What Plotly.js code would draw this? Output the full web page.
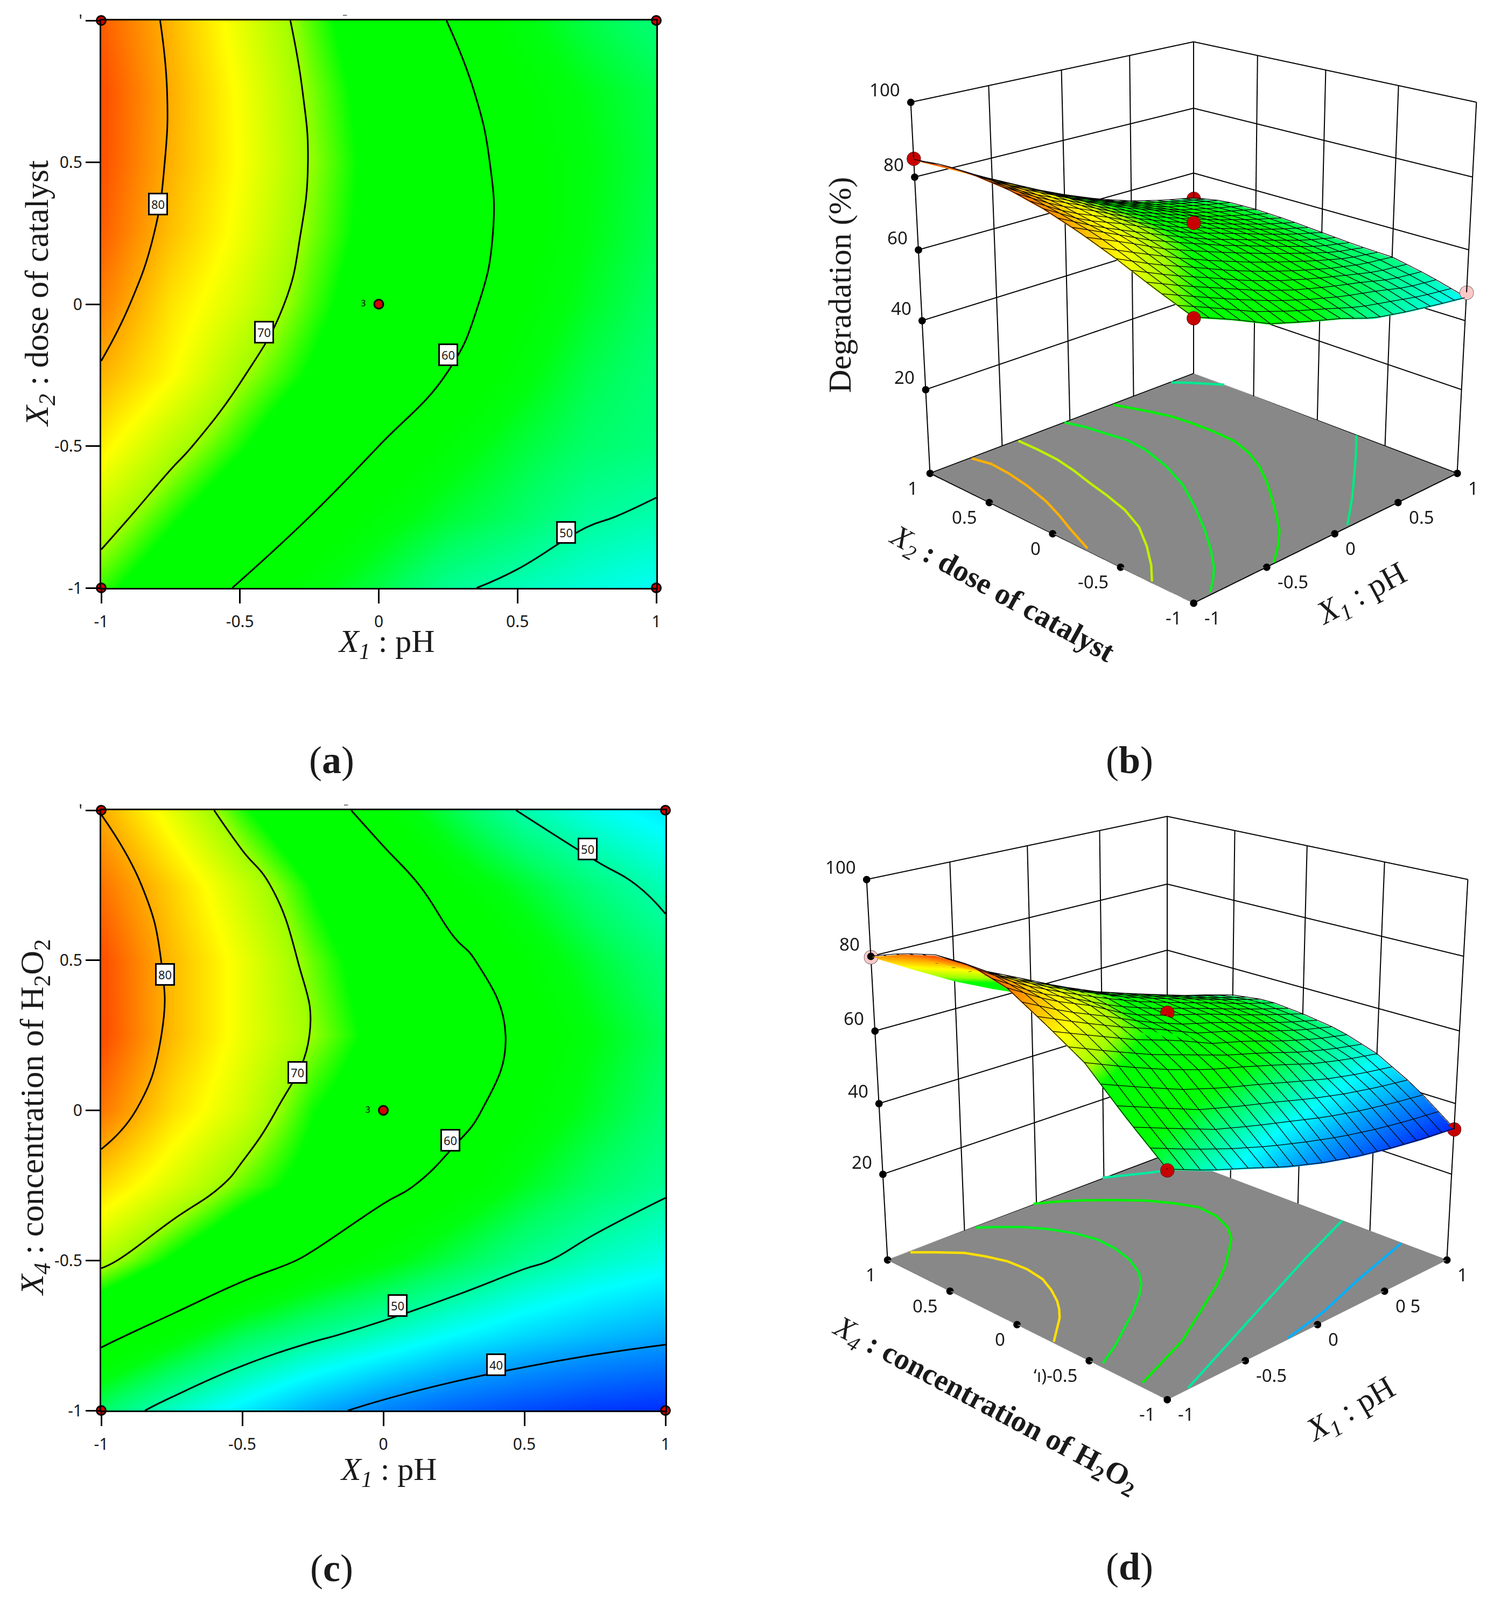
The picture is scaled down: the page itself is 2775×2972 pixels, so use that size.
<!DOCTYPE html>
<html><head><meta charset="utf-8">
<script src="https://cdn.plot.ly/plotly-3.0.1.min.js"></script>
<style>html,body{margin:0;padding:0;background:#fff;overflow:hidden;width:2775px;height:2972px}#wrap{position:absolute;left:0;top:-952px}</style>
</head><body><div id="wrap"></div>
<script>
const W=2775, OFF=952, H=4509;
const fx=p=>p/W, fy=p=>1-(p+OFF)/H;
const coded=[-1,-0.75,-0.5,-0.25,0,0.25,0.5,0.75,1];
// degradation (%) (a)/(b): rows X2=-1 ... 1, cols X1=-1 ... 1
const zDose=[
[68,64,59.5,56.6,54,50.7,49,47.6,46.4],
[71.7,67.6,63.8,60,57,54.7,52.8,50.4,49.4],
[75.8,71.2,67.4,63.4,60,57.1,54.6,52.6,51.6],
[79.4,75.2,70.3,66.7,63.2,59.9,56.8,53.8,52],
[82.4,76.6,72.8,68.4,64.4,61.4,58.2,55.2,52.8],
[84.5,78.6,74.2,69.4,65.5,62,58.9,56,53.6],
[85.4,79.5,74.8,69.9,65.7,62.1,58.6,56.2,54],
[85.6,79.7,74.6,69.5,65.2,61.2,58,55.7,53.8],
[84.5,79.2,73.7,68.6,64,59.9,56.6,54,52]];
// degradation (%) (c)/(d): rows X4=-1 ... 1
const zH2O2=[
[52.6,48.4,45,41.4,38.6,36.4,34.8,33.6,32.8],
[61.4,57.4,53.4,50.8,48.4,45.8,43.8,42.2,41],
[71,66.6,62.6,59.2,56.6,53.8,50.8,48.6,47],
[77.2,73,68.8,65.5,61.1,58.6,55.4,52.6,50.6],
[83,76.9,72.6,67.2,64,61.3,58,55,52.2],
[85.8,79,74,69.8,65.6,62.2,59.2,56,53.2],
[85.6,79,74,68.9,64.5,61,57.7,54.5,51.8],
[83.2,77.6,72.1,66.8,62.3,57.8,54.8,51.6,48.9],
[79.8,73.6,67.6,62.5,57.9,53.7,49.5,46.8,44.8]];
const colorLevels=[32,40,46,50,53,56,58,67,70,75,80,85,92];
const colorHex=['#0020ff','#0096ff','#00ffff','#00ffa0','#00ff60','#00ff10','#00ff00','#00ff00','#9fff00','#ffff00','#ffa800','#ff5500','#ff0000'];
const cmin=colorLevels[0], cmax=colorLevels[colorLevels.length-1];
const cscale=colorLevels.map((v,i)=>[(v-cmin)/(cmax-cmin),colorHex[i]]);
const tickVals=[-1,-0.5,0,0.5,1], tickText=['-1','-0.5','0','0.5','1'], yTickTextFlat=['-1','-0.5','0','0.5',"'"];
const zTicks=[20,40,60,80,100];
const meshLines=[-1,-0.9,-0.8,-0.7,-0.6,-0.5,-0.4,-0.3,-0.2,-0.1,0,0.1,0.2,0.3,0.4,0.5,0.6,0.7,0.8,0.9,1];
const floorZ=-5, topZ=100;
const cornerX=[-1,1,-1,1], cornerY=[-1,-1,1,1];
// contour labels
const labelsA={x:[-0.796,-0.414,0.25,0.675],y:[0.353,-0.098,-0.179,-0.805],t:['80','70','60','50']};
const labelsC={x:[-0.773,-0.305,0.237,0.724,0.05,0.4],y:[0.453,0.127,-0.1,0.87,-0.65,-0.848],t:['80','70','60','50','50','40']};
const floorB=[
 {c:'#ffb000',x:[-0.73,-0.7,-0.71,-0.74,-0.79,-0.85,-0.91,-0.99],y:[0.98,0.85,0.69,0.5,0.293,0.12,-0.03,-0.25]},
 {c:'#c0f000',x:[-0.4,-0.4,-0.41,-0.44,-0.483,-0.52,-0.57,-0.65,-0.767,-0.89,-1],y:[0.98,0.82,0.64,0.47,0.293,0.12,-0.07,-0.26,-0.44,-0.6,-0.72]},
 {c:'#00f020',x:[-0.05,-0.01,0.01,0.035,0.02,-0.05,-0.15,-0.29,-0.44,-0.57,-0.69,-0.79,-0.88],y:[0.99,0.86,0.72,0.56,0.4,0.16,-0.07,-0.3,-0.52,-0.69,-0.83,-0.92,-0.99]},
 {c:'#00f000',x:[0.32,0.36,0.4,0.44,0.456,0.46,0.447,0.39,0.31,0.19,0.05,-0.07,-0.18,-0.31,-0.45],y:[0.98,0.87,0.76,0.62,0.47,0.3,0.12,-0.04,-0.19,-0.36,-0.53,-0.67,-0.79,-0.9,-1]},
 {c:'#00e880',x:[0.99,0.8,0.61,0.37,0.11],y:[-0.3,-0.46,-0.61,-0.8,-0.99]},
 {c:'#00e890',x:[0.795,0.876,0.994],y:[0.985,0.894,0.736]}];
const floorD=[
 {c:'#ffe000',x:[-0.87,-0.78,-0.68,-0.63,-0.59,-0.58,-0.6,-0.65,-0.71,-0.76,-0.82,-0.91,-1],y:[0.98,0.89,0.78,0.67,0.55,0.41,0.27,0.15,0.04,-0.03,-0.1,-0.18,-0.26]},
 {c:'#00f020',x:[-0.44,-0.35,-0.26,-0.18,-0.12,-0.09,-0.1,-0.14,-0.21,-0.29,-0.38,-0.53,-0.68,-0.83,-0.98],y:[0.98,0.9,0.81,0.69,0.556,0.42,0.28,0.13,-0.01,-0.11,-0.19,-0.3,-0.395,-0.49,-0.57]},
 {c:'#00f000',x:[-0.02,0.09,0.2,0.32,0.44,0.52,0.576,0.56,0.495,0.41,0.31,0.14,-0.05,-0.31,-0.57,-0.78,-0.98],y:[1,0.93,0.845,0.73,0.6,0.47,0.34,0.19,0.045,-0.06,-0.14,-0.27,-0.39,-0.53,-0.67,-0.75,-0.825]},
 {c:'#00e8a0',x:[0.99,0.5,-0.12,-0.87],y:[-0.32,-0.49,-0.72,-1]},
 {c:'#00b0ff',x:[0.985,0.48,0.12,-0.21],y:[-0.72,-0.84,-0.94,-1]},
 {c:'#00e8a0',x:[0.49,0.72,1],y:[1,0.87,0.73]}];
const markB={x:[-1,1,0,-1,1],y:[1,1,0,-1,-1],z:[85,52,67.5,68,48],c:['#c80000','#c80000','#c80000','#c80000','#ffc8c8']};
const markD={x:[-1,0,-1,1],y:[1,0,-1,-1],z:[79.8,65,52.6,32.8],c:['#ffc8c8','#c80000','#c80000','#c80000']};

const serif='"Liberation Serif"', sans='"Noto Sans"', ink='#1a1a1a';
const traces=[];
function flat(z,ax,ay){
 traces.push({type:'heatmap',x:coded,y:coded,z:z,zsmooth:'best',colorscale:cscale,zmin:cmin,zmax:cmax,showscale:false,xaxis:ax,yaxis:ay,hoverinfo:'skip'});
 traces.push({type:'contour',x:coded,y:coded,z:z,xaxis:ax,yaxis:ay,showscale:false,contours:{coloring:'none',start:40,end:80,size:10,showlabels:false},line:{color:'#000',width:3,smoothing:1.3},hoverinfo:'skip'});
 traces.push({type:'scatter',mode:'markers',x:cornerX,y:cornerY,xaxis:ax,yaxis:ay,cliponaxis:false,marker:{size:17,color:'#d00000',line:{color:'#000',width:3}},hoverinfo:'skip'});
 traces.push({type:'scatter',mode:'markers+text',x:[0],y:[0],text:['3   '],textposition:'middle left',textfont:{family:sans,size:16,color:'#000'},xaxis:ax,yaxis:ay,marker:{size:17,color:'#d00000',line:{color:'#000',width:3}},hoverinfo:'skip'});
}
flat(zDose,'x','y');
flat(zH2O2,'x2','y2');
function frameLines(){
 const X=[],Y=[],Z=[];
 const seg=(a,b)=>{X.push(a[0],b[0],null);Y.push(a[1],b[1],null);Z.push(a[2],b[2],null);};
 tickVals.forEach(v=>{seg([v,1,floorZ],[v,1,topZ]);seg([1,v,floorZ],[1,v,topZ]);});
 zTicks.forEach(v=>{seg([1,1,v],[-1,1,v]);seg([1,1,v],[1,-1,v]);});
 seg([-1,-1,floorZ],[1,-1,floorZ]);seg([-1,-1,floorZ],[-1,1,floorZ]);seg([1,-1,floorZ],[1,1,floorZ]);seg([-1,1,floorZ],[1,1,floorZ]);
 return {X,Y,Z};
}
function tickDots(){
 const X=[],Y=[],Z=[];
 tickVals.forEach(v=>{X.push(v);Y.push(-1);Z.push(floorZ);X.push(-1);Y.push(v);Z.push(floorZ);});
 zTicks.forEach(v=>{X.push(-1);Y.push(1);Z.push(v);});
 return {X,Y,Z};
}
// wire mesh drawn over the surface: follows the surface values held in z
function onSurface(z,a,b){
 const idx=v=>Math.min(7,Math.floor((v+1)/0.25));
 const i=idx(a), j=idx(b), s=(a-coded[i])/0.25, t=(b-coded[j])/0.25;
 return z[j][i]*(1-s)*(1-t)+z[j][i+1]*s*(1-t)+z[j+1][i]*(1-s)*t+z[j+1][i+1]*s*t;
}
function wire(z){
 const X=[],Y=[],Z=[];
 meshLines.forEach(p=>{
  meshLines.forEach(q=>{X.push(p);Y.push(q);Z.push(onSurface(z,p,q)+0.25);});X.push(null);Y.push(null);Z.push(null);
  meshLines.forEach(q=>{X.push(q);Y.push(p);Z.push(onSurface(z,q,p)+0.25);});X.push(null);Y.push(null);Z.push(null);
 });
 return {X,Y,Z};
}
function solid(z,scene,floor,mark){
 traces.push({type:'surface',scene:scene,x:coded,y:coded,z:z,colorscale:cscale,cmin:cmin,cmax:cmax,showscale:false,hoverinfo:'skip',
  lighting:{ambient:1,diffuse:0,specular:0,roughness:1,fresnel:0},
  contours:{x:{show:false},y:{show:false},z:{show:false}}});
 const wr=wire(z);
 traces.push({type:'scatter3d',scene:scene,mode:'lines',x:wr.X,y:wr.Y,z:wr.Z,line:{color:'#000',width:2.5},connectgaps:false,hoverinfo:'skip'});
 floor.forEach(f=>traces.push({type:'scatter3d',scene:scene,mode:'lines',x:f.x,y:f.y,z:f.x.map(()=>floorZ+0.3),line:{color:f.c,width:9},hoverinfo:'skip',showlegend:false}));
 const fr=frameLines();
 traces.push({type:'scatter3d',scene:scene,mode:'lines',x:fr.X,y:fr.Y,z:fr.Z,line:{color:'#000',width:4},connectgaps:false,hoverinfo:'skip'});
 const td=tickDots();
 traces.push({type:'scatter3d',scene:scene,mode:'markers',x:td.X,y:td.Y,z:td.Z,marker:{size:8,color:'#000'},hoverinfo:'skip'});
 traces.push({type:'scatter3d',scene:scene,mode:'markers',x:mark.x,y:mark.y,z:mark.z,marker:{size:15,color:mark.c,line:{color:'#000',width:3}},hoverinfo:'skip'});
}
solid(zDose,'scene',floorB,markB);
solid(zH2O2,'scene2',floorD,markD);
function ax2(dom,anchor,axis){
 return {domain:dom,anchor:anchor,range:[-1,1],tickmode:'array',tickvals:tickVals,ticktext:axis==='y'?yTickTextFlat:tickText,ticks:'outside',ticklen:26,tickwidth:3,tickcolor:'#000',ticklabelstandoff:axis==='x'?8:0,
 showgrid:false,zeroline:false,showline:true,mirror:true,linecolor:'#000',linewidth:3,tickfont:{family:sans,size:30,color:ink}};
}
function ax3(vals,rng){
 return {title:{text:''},range:rng,tickmode:'array',tickvals:vals,showticklabels:false,showgrid:false,zeroline:false,showline:false,showbackground:false,showspikes:false,ticks:''};
}
function tickNotes(xLabels,yLabels){
 const f={family:sans,size:33,color:ink};
 const out=[];
 tickVals.forEach((v,i)=>{out.push({x:v,y:-1,z:floorZ,text:xLabels[i],showarrow:false,font:f,xanchor:'left',yanchor:'middle',xshift:18,yshift:-27});
  out.push({x:-1,y:v,z:floorZ,text:yLabels[i],showarrow:false,font:f,xanchor:'right',yanchor:'middle',xshift:-20,yshift:-27});});
 zTicks.forEach(v=>out.push({x:-1,y:1,z:v,text:String(v),showarrow:false,font:f,xanchor:'right',yanchor:'middle',xshift:-18,yshift:23}));
 return out;
}
function scene(cx,cy,hw,hh,eye,as,xl,yl){
 return {domain:{x:[fx(cx-hw),fx(cx+hw)],y:[fy(cy+hh),fy(cy-hh)]},
  xaxis:ax3(tickVals,[-1.002,1.002]),yaxis:ax3(tickVals,[-1.002,1.002]),
  zaxis:Object.assign(ax3(zTicks,[floorZ,topZ+0.2]),{showbackground:true,backgroundcolor:'#888888'}),
  aspectmode:'manual',aspectratio:as,annotations:tickNotes(xl,yl),
  camera:{eye:eye,up:{x:0,y:0,z:1},center:{x:0,y:0,z:0},projection:{type:'perspective'}}};
}
const note=(x,y,t,angle,size,fam)=>({xref:'paper',yref:'paper',x:fx(x),y:fy(y),text:t,textangle:angle||0,showarrow:false,font:{family:fam||serif,size:size||58,color:ink},xanchor:'center',yanchor:'middle'});
const boxed=(l,xr,yr)=>l.t.map((t,i)=>({xref:xr,yref:yr,x:l.x[i],y:l.y[i],text:t,showarrow:false,bgcolor:'#fff',bordercolor:'#000',borderwidth:3,borderpad:3,font:{family:sans,size:22,color:ink}}));
const titleX1='<i>X<sub>1</sub></i> : pH';
const layout={width:W,height:H,autosize:false,margin:{l:0,r:0,t:0,b:0},paper_bgcolor:'#fff',showlegend:false,
 xaxis:ax2([fx(188),fx(1219)],'y','x'),
 yaxis:ax2([fy(1092),fy(38)],'x','y'),
 xaxis2:ax2([fx(188),fx(1236)],'y2','x'),
 yaxis2:ax2([fy(2620),fy(1505)],'x2','y'),
 scene:scene(2217,546,558,1457,{x:-3.16,y:-3.16,z:1.61},{x:.97,y:.97,z:.99},tickText,tickText),
 scene2:scene(2168,1999,607,1457,{x:-3.16,y:-3.16,z:1.61},{x:1.03,y:1.03,z:1.015},['-1','-0.5','0','0 5','1'],['-1','\u2018\u0131)-0.5','0','0.5','1']),
 annotations:[...boxed(labelsA,'x','y'),...boxed(labelsC,'x2','y2'),
  note(718,1196,titleX1,0,60),note(722,2733,titleX1,0,60),
  note(72,546,'<i>X<sub>2</sub></i> : dose of catalyst',-90,62),
  note(63,2076,'<i>X<sub>4</sub></i> : concentration of H<sub>2</sub>O<sub>2</sub>',-90,62),
  note(640,28,'\u2212',0,16,sans),note(642,1495,'\u2212',0,16,sans),
  note(616,1412,'(<b>a</b>)',0,72),note(2098,1412,'(<b>b</b>)',0,72),note(616,2913,'(<b>c</b>)',0,72),note(2098,2910,'(<b>d</b>)',0,72),
  note(1560,530,'Degradation (%)',-90,60),
  note(1860,1105,'<i>X<sub>2</sub></i><b> : dose of catalyst</b>',29,56),
  note(2530,1105,titleX1,-28,60),
  note(1830,2610,'<i>X<sub>4</sub></i><b> : concentration of H<sub>2</sub>O<sub>2</sub></b>',28,56),
  note(2510,2620,titleX1,-30,60)]
};
Plotly.newPlot('wrap',traces,layout,{displayModeBar:false});
</script></body></html>
